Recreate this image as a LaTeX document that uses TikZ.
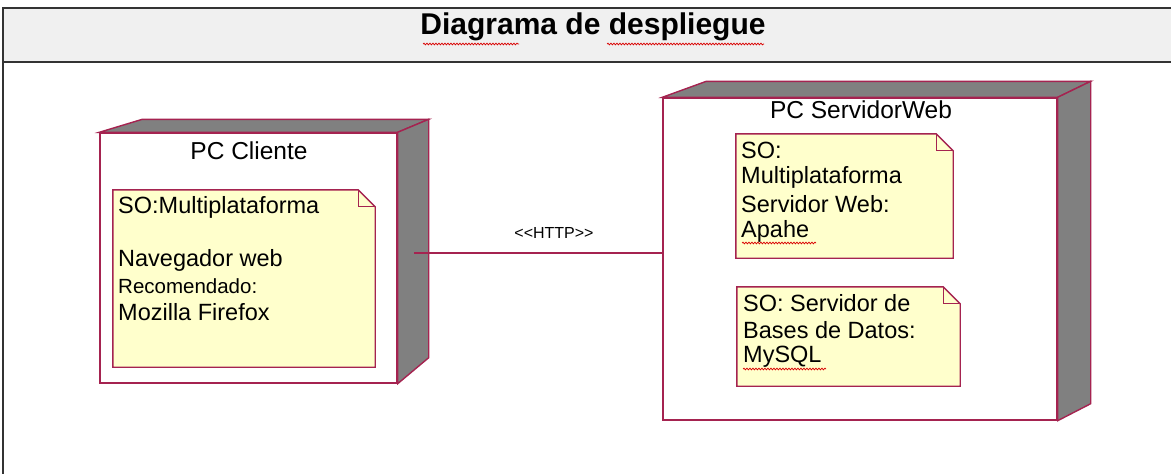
\documentclass[tikz,border=0pt]{standalone}
\usepackage{fontspec}
\setmainfont{Liberation Sans}
\usetikzlibrary{decorations.pathmorphing,calc}
\definecolor{umlborder}{RGB}{165,35,80}
\definecolor{notefill}{RGB}{255,255,204}
\definecolor{sideface}{RGB}{128,128,128}
\definecolor{band}{RGB}{240,240,240}
\tikzset{
  frontface/.style={draw=umlborder, line width=1.4pt, fill=white, inner sep=0pt},
  depthface/.style={draw=umlborder, line width=1.4pt, fill=sideface},
  notebox/.style={draw=none, inner sep=0pt},
  noteline/.style={draw=umlborder, line width=1.4pt, fill=notefill},
  earline/.style={draw=umlborder, line width=1pt},
  ntext/.style={anchor=west, inner sep=0pt, font=\fontsize{23.5}{27}\selectfont},
  ntextsmall/.style={anchor=west, inner sep=0pt, font=\fontsize{20.5}{24}\selectfont},
  ttext/.style={inner sep=0pt, font=\fontsize{24.5}{28}\selectfont},
  wire/.style={draw=umlborder, line width=1.4pt},
  spell/.style={draw=red!85!black, line width=0.7pt, decorate, decoration={snake, amplitude=0.9pt, segment length=3pt}},
}
\begin{document}
\begin{tikzpicture}[x=1pt,y=-1pt]
\useasboundingbox (0,0) rectangle (1171,474);
% frame and title band
\fill[band] (3,8) rectangle (1171,62);
\draw[black!80, line width=2pt] (3,474) -- (3,8) -- (1171,8);
\draw[black!80, line width=2pt] (3,62) -- (1171,62);
\node[font=\bfseries\fontsize{30}{34}\selectfont, inner sep=0pt] (title) at (593,27) {Diagrama de despliegue};
\draw[spell] (423,44) -- (519,44);
\draw[spell] (607,44) -- (764,44);

% ---------- PC Cliente node ----------
\node[frontface, minimum width=297pt, minimum height=250pt] (cliente) at (248.5,258) {};
\path[depthface] (cliente.north west) -- ++(43,-13) -- ($(cliente.north east)+(31,-13)$) -- (cliente.north east) -- cycle;
\path[depthface] (cliente.north east) -- ++(31,-13) -- ($(cliente.south east)+(31,-26)$) -- (cliente.south east) -- cycle;
\node[ttext] (clienteName) at (249,151) {PC Cliente};

% note in cliente
\node[notebox, minimum width=262pt, minimum height=177pt] (noteA) at (244,278.5) {};
\path[noteline] (noteA.north west) -- ($(noteA.north east)+(-17,0)$) -- ($(noteA.north east)+(0,17)$) -- (noteA.south east) -- (noteA.south west) -- cycle;
\draw[earline] ($(noteA.north east)+(-17,0)$) |- ($(noteA.north east)+(0,17)$);
\node[ntext] (a1) at (118,207) {SO:Multiplataforma};
\node[ntext] (a2) at (118,260) {Navegador web};
\node[ntextsmall] (a3) at (118,286) {Recomendado:};
\node[ntext] (a4) at (118,312) {Mozilla Firefox};

% ---------- PC ServidorWeb node ----------
\node[frontface, minimum width=394pt, minimum height=322pt] (servidor) at (860,259) {};
\path[depthface] (servidor.north west) -- ++(44,-16) -- ($(servidor.north east)+(33,-16)$) -- (servidor.north east) -- cycle;
\path[depthface] (servidor.north east) -- ++(33,-16) -- ($(servidor.south east)+(33,-17)$) -- (servidor.south east) -- cycle;
\node[ttext] (servidorName) at (861,110) {PC ServidorWeb};

% note 1 in servidor
\node[notebox, minimum width=217pt, minimum height=124pt] (noteB) at (844.5,196) {};
\path[noteline] (noteB.north west) -- ($(noteB.north east)+(-17,0)$) -- ($(noteB.north east)+(0,17)$) -- (noteB.south east) -- (noteB.south west) -- cycle;
\draw[earline] ($(noteB.north east)+(-17,0)$) |- ($(noteB.north east)+(0,17)$);
\node[ntext] (b1) at (741,150) {SO:};
\node[ntext] (b2) at (741,177) {Multiplataforma};
\node[ntext] (b3) at (741,204) {Servidor Web:};
\node[ntext] (b4) at (741,231) {Apahe};
\draw[spell] (742,243) -- (816,243);

% note 2 in servidor
\node[notebox, minimum width=223pt, minimum height=99pt] (noteC) at (848.5,336.5) {};
\path[noteline] (noteC.north west) -- ($(noteC.north east)+(-17,0)$) -- ($(noteC.north east)+(0,17)$) -- (noteC.south east) -- (noteC.south west) -- cycle;
\draw[earline] ($(noteC.north east)+(-17,0)$) |- ($(noteC.north east)+(0,17)$);
\node[ntext] (c1) at (743,303) {SO: Servidor de};
\node[ntext] (c2) at (743,330) {Bases de Datos:};
\node[ntext] (c3) at (743,357) {MySQL};
\draw[spell] (743,369) -- (826,369);

% ---------- connector ----------
\coordinate (linkstart) at (414,253);
\draw[wire] (linkstart) -- (servidor.west |- linkstart);
\node[font=\fontsize{16}{18}\selectfont, inner sep=0pt] (http) at (554,233) {<{}<HTTP>{}>};
\end{tikzpicture}
\end{document}
